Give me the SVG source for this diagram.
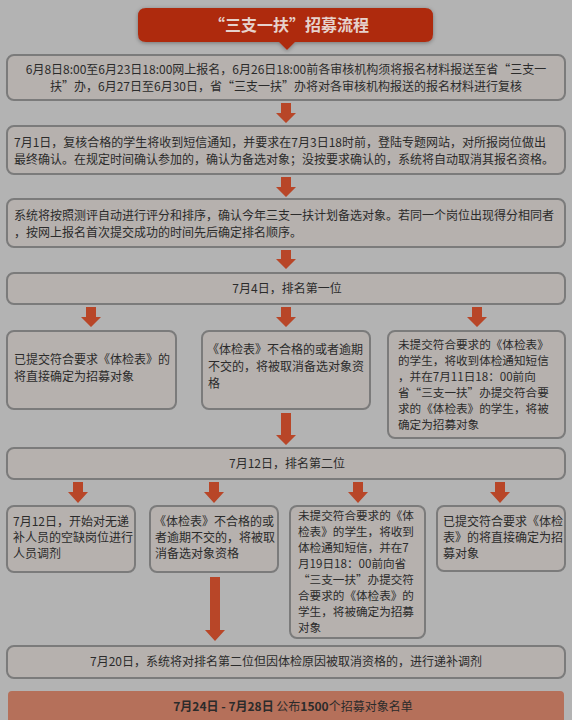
<svg xmlns="http://www.w3.org/2000/svg" width="572" height="720" viewBox="0 0 572 720">
<defs>
<filter id="sh" x="-10%" y="-30%" width="120%" height="160%">
<feDropShadow dx="0" dy="1" stdDeviation="2" flood-color="#000" flood-opacity="0.35"/>
</filter>
</defs>
<style>
text{font-family:"Noto Sans CJK SC","Microsoft YaHei",sans-serif;font-size:12px;fill:#2b2b2b}
.box{fill:#b6b1ae;stroke:#7b7b7b;stroke-width:2}
.c{text-anchor:middle}
.arr{fill:#b84628}
.t{font-size:16px;font-weight:bold;fill:#e6d2cc;text-anchor:middle}
.b{font-weight:bold}
.s{font-size:11.6px}
</style>
<rect width="572" height="720" fill="#b3b3b3"/>

<g id="title">
<path d="M146,8 H425 Q433,8 433,16 V34 Q433,42 425,42 H295 L287,50 L279,42 H146 Q138,42 138,34 V16 Q138,8 146,8 Z" fill="#ae2a0f" filter="url(#sh)"/>
<text class="t" x="289" y="31">“三支一扶”招募流程</text>
</g>

<g id="n1">
<rect class="box" x="7" y="55" width="558" height="45" rx="7"/>
<text class="c" x="286" y="74">6月8日8:00至6月23日18:00网上报名，6月26日18:00前各审核机构须将报名材料报送至省“三支一</text>
<text class="c" x="286" y="91">扶”办，6月27日至6月30日，省“三支一扶”办将对各审核机构报送的报名材料进行复核</text>
</g>

<g id="n2">
<rect class="box" x="7" y="126" width="558" height="48" rx="7"/>
<text x="14" y="147">7月1日，复核合格的学生将收到短信通知，并要求在7月3日18时前，登陆专题网站，对所报岗位做出</text>
<text x="14" y="164">最终确认。在规定时间确认参加的，确认为备选对象；没按要求确认的，系统将自动取消其报名资格。</text>
</g>

<g id="n3">
<rect class="box" x="7" y="199" width="558" height="48" rx="7"/>
<text x="14" y="220">系统将按照测评自动进行评分和排序，确认今年三支一扶计划备选对象。若同一个岗位出现得分相同者</text>
<text x="14" y="237">，按网上报名首次提交成功的时间先后确定排名顺序。</text>
</g>

<g id="n4">
<rect class="box" x="7" y="273" width="558" height="31" rx="7"/>
<text class="c" x="287" y="293">7月4日，排名第一位</text>
</g>

<g id="n5">
<rect class="box" x="7" y="331" width="169" height="78" rx="7"/>
<text x="14" y="364">已提交符合要求《体检表》的</text>
<text x="14" y="381">将直接确定为招募对象</text>
</g>

<g id="n6">
<rect class="box" x="202" y="331" width="168" height="78" rx="7"/>
<text x="207" y="354">《体检表》不合格的或者逾期</text>
<text x="208" y="371">不交的，将被取消备选对象资</text>
<text x="208" y="388">格</text>
</g>

<g id="n7">
<rect class="box" x="388" y="331" width="177" height="107" rx="7"/>
<text class="s" x="398" y="349">未提交符合要求的《体检表》</text>
<text class="s" x="398" y="365">的学生，将收到体检通知短信</text>
<text class="s" x="398" y="381">，并在7月11日18：00前向</text>
<text class="s" x="398" y="397">省“三支一扶”办提交符合要</text>
<text class="s" x="398" y="413">求的《体检表》的学生，将被</text>
<text class="s" x="398" y="429">确定为招募对象</text>
</g>

<g id="n8">
<rect class="box" x="7" y="448" width="558" height="31" rx="7"/>
<text class="c" x="287" y="468">7月12日，排名第二位</text>
</g>

<g id="n9">
<rect class="box" x="7" y="506" width="128" height="66" rx="7"/>
<text x="13" y="526">7月12日，开始对无递</text>
<text x="13" y="542">补人员的空缺岗位进行</text>
<text x="13" y="558">人员调剂</text>
</g>

<g id="n10">
<rect class="box" x="150" y="506" width="128" height="66" rx="7"/>
<text x="154" y="526">《体检表》不合格的或</text>
<text x="155" y="542">者逾期不交的，将被取</text>
<text x="155" y="558">消备选对象资格</text>
</g>

<g id="n11">
<rect class="box" x="290" y="506" width="135" height="132" rx="7"/>
<text class="s" x="298" y="520">未提交符合要求的《体</text>
<text class="s" x="298" y="536">检表》的学生，将收到</text>
<text class="s" x="298" y="552">体检通知短信，并在7</text>
<text class="s" x="298" y="568">月19日18：00前向省</text>
<text class="s" x="298" y="584">“三支一扶”办提交符</text>
<text class="s" x="298" y="600">合要求的《体检表》的</text>
<text class="s" x="298" y="616">学生，将被确定为招募</text>
<text class="s" x="298" y="632">对象</text>
</g>

<g id="n12">
<rect class="box" x="437" y="506" width="128" height="65" rx="7"/>
<text x="443" y="526">已提交符合要求《体检</text>
<text x="443" y="542">表》的将直接确定为招</text>
<text x="443" y="558">募对象</text>
</g>

<g id="n13">
<rect class="box" x="7" y="646" width="558" height="32" rx="7"/>
<text class="c" x="286" y="666">7月20日，系统将对排名第二位但因体检原因被取消资格的，进行递补调剂</text>
</g>

<g id="n14">
<path d="M12,691 H560 Q564,691 564,695 V720 H8 V695 Q8,691 12,691 Z" fill="#b5705a"/>
<text class="c" x="293" y="711"><tspan class="b">7月24日 - 7月28日</tspan> 公布<tspan class="b">1500</tspan>个招募对象名单</text>
</g>

<g id="connectors" class="arr">
<path d="M281,103 H291 V113 H296 L286,123 L276,113 H281 Z"/>
<path d="M281,177 H291 V187 H296 L286,197 L276,187 H281 Z"/>
<path d="M281,250 H291 V259 H296 L286,269 L276,259 H281 Z"/>
<path d="M86,307 H96 V317 H101 L91,327 L81,317 H86 Z"/>
<path d="M281,307 H291 V317 H296 L286,327 L276,317 H281 Z"/>
<path d="M472,307 H482 V317 H487 L477,327 L467,317 H472 Z"/>
<path d="M281,413 H291 V435 H296 L286,445 L276,435 H281 Z"/>
<path d="M73,482 H83 V492 H88 L78,503 L68,492 H73 Z"/>
<path d="M209,482 H219 V492 H224 L214,503 L204,492 H209 Z"/>
<path d="M353,482 H363 V492 H368 L358,503 L348,492 H353 Z"/>
<path d="M495,482 H505 V492 H510 L500,503 L490,492 H495 Z"/>
<path d="M210,577 H220 V630 H225 L215,641 L205,630 H210 Z"/>
</g>
</svg>
